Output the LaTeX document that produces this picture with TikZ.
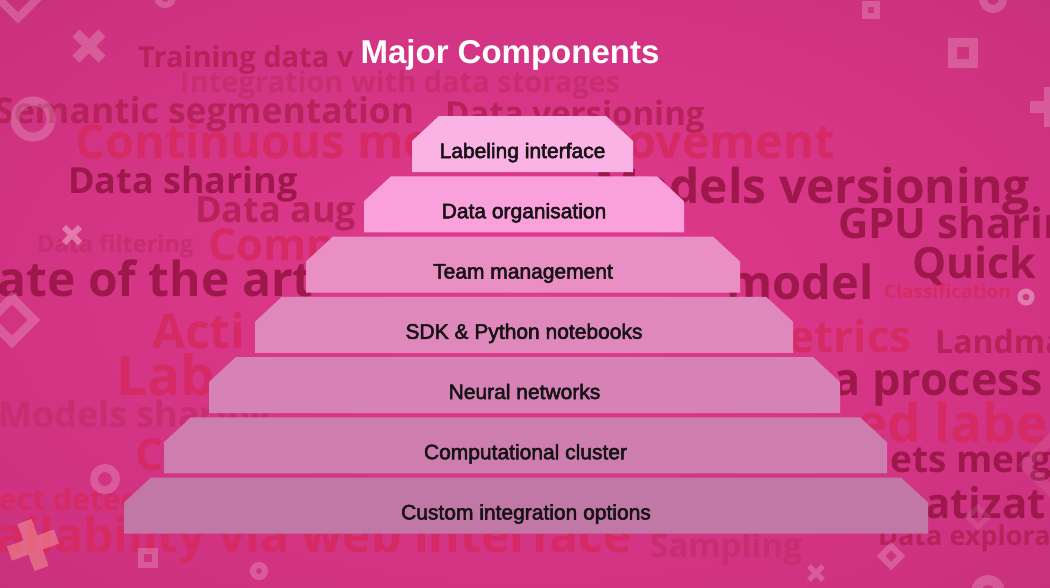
\documentclass[tikz,border=0pt]{standalone}
\usepackage{fontspec}
\usepackage{tikz}
\usetikzlibrary{shapes}
\setmainfont{Liberation Sans}
\newfontfamily\labelfont{Liberation Sans}[FakeBold=2.5]
\newfontfamily\wordfont{Open Sans}
\newcommand{\wsize}[1]{\fontsize{#1}{#1}\selectfont}

\definecolor{bgcenter}{RGB}{226, 58, 142}
\definecolor{bgmid}{RGB}{206, 50, 128}
\definecolor{bgedge}{RGB}{160, 36, 100}
\definecolor{wdark}{RGB}{158, 24, 76}
\definecolor{wmid}{RGB}{182, 34, 90}
\definecolor{wred}{RGB}{214, 42, 100}
\definecolor{wsoft}{RGB}{198, 46, 112}
\definecolor{layerA}{RGB}{251, 178, 228}
\definecolor{layerB}{RGB}{250, 160, 218}
\definecolor{layerC}{RGB}{234, 143, 196}
\definecolor{layerD}{RGB}{222, 136, 188}
\definecolor{layerE}{RGB}{214, 130, 182}
\definecolor{layerF}{RGB}{205, 125, 174}
\definecolor{layerG}{RGB}{193, 120, 166}
\definecolor{labelink}{RGB}{22, 18, 22}
\definecolor{crosstint}{RGB}{250, 170, 150}

\pgfdeclareradialshading{slidebg}{\pgfpoint{0bp}{0bp}}{color(0bp)=(bgcenter); color(30bp)=(bgmid); color(72bp)=(bgedge)}

\begin{document}
\begin{tikzpicture}[x=1pt, y=-1pt,
  layerlabel/.style={anchor=base, inner sep=0pt, font=\labelfont\wsize{21}, text=labelink},
  word/.style={anchor=base west, inner sep=0pt, font=\wordfont\bfseries, text=#1},
  deco/.style={draw=white, draw opacity=0.2}
]
  \useasboundingbox (0,0) rectangle (1050,587);
  \clip (0,0) rectangle (1050,587);
  \shade[shading=slidebg] (0,0) rectangle (1050,587);

  % word cloud
  \node[word=wmid] (training) at (138,67) {\wsize{29}Training data v};
  \node[word=wsoft] (storages) at (180,92) {\wsize{29}Integration with data storages};
  \node[word=wmid] (semantic) at (-6,123) {\wsize{35.5}Semantic segmentation};
  \node[word=wmid] (dataver) at (445,125) {\wsize{33}Data versioning};
  \node[word=wred] (continuous) at (75,158) {\wsize{47}Continuous model improvement};
  \node[word=wdark] (sharing) at (68,193) {\wsize{36}Data sharing};
  \node[word=wdark, anchor=base east] (modelver) at (1030,203) {\wsize{48}Models versioning};
  \node[word=wmid] (augment) at (195,222) {\wsize{36}Data aug};
  \node[word=wdark] (gpu) at (838,238) {\wsize{42}GPU sharing};
  \node[word=wsoft] (filtering) at (37,252) {\wsize{23.5}Data filtering};
  \node[word=wred] (comp) at (208,260) {\wsize{44}Comp};
  \node[word=wdark] (stateart) at (-50,296) {\wsize{48}State of the art};
  \node[word=wdark, anchor=base east] (model) at (874,299) {\wsize{47}model};
  \node[word=wdark] (quick) at (912,278) {\wsize{43}Quick};
  \node[word=wred] (classif) at (884,298) {\wsize{19}Classification};
  \node[word=wred] (active) at (152,348) {\wsize{48}Acti};
  \node[word=wred, anchor=base east] (metrics) at (912,352) {\wsize{44}metrics};
  \node[word=wmid] (landmarks) at (935,353) {\wsize{32}Landmarks};
  \node[word=wred] (lab) at (116,395) {\wsize{55}Lab};
  \node[word=wdark] (process) at (833,395) {\wsize{45}a process};
  \node[word=wsoft] (modelshare) at (-2,427) {\wsize{36}Models sharing};
  \node[word=wred] (labels) at (856,442) {\wsize{53}ed label};
  \node[word=wred] (cbig) at (135,470) {\wsize{44}C};
  \node[word=wdark] (merging) at (890,472) {\wsize{37}ets merg};
  \node[word=wred] (detect) at (-1,510) {\wsize{30}ect detect};
  \node[word=wdark] (atizat) at (925,518) {\wsize{42}atizat};
  \node[word=wred] (webint) at (-4,552) {\wsize{48}ailability via web interface};
  \node[word=wsoft] (sampling) at (650,557) {\wsize{33}Sampling};
  \node[word=wmid] (explore) at (878,545) {\wsize{27}Data explora};

  % decorations
  \draw[deco, line width=8pt] (18,-22) -- (38,-2) -- (18,18) -- (-2,-2) -- cycle;
  \draw[deco, line width=6pt] (165,-3) circle (8);
  \draw[deco, line width=10pt] (76,33) -- (102,59) (76,59) -- (102,33);
  \draw[deco, line width=9pt] (33,119) circle (18);
  \draw[deco, line width=6pt] (865,4) rectangle (877,16);
  \draw[deco, line width=8pt] (993,-1) circle (10);
  \draw[deco, line width=9pt] (952.5,42.5) rectangle (973.5,63.5);
  \draw[deco, line width=12pt] (1030,107) -- (1070,107) (1050,87) -- (1050,127);
  \draw[deco, draw opacity=0.35, line width=6pt] (64,227) -- (80,243) (64,243) -- (80,227);
  \draw[deco, line width=9pt] (12,298) -- (34,320) -- (12,342) -- (-10,320) -- cycle;
  \draw[deco, draw opacity=0.35, line width=5pt] (1026,297) circle (6);
  \draw[deco, line width=8pt] (105,479) circle (11);
  \draw[deco, draw=crosstint, draw opacity=0.45, line width=15pt, rotate around={20:(33,545)}]
    (33,520) -- (33,570) (8,545) -- (58,545);
  \draw[deco, line width=6pt] (141,551) rectangle (155,565);
  \draw[deco, line width=6pt] (259,571) circle (6);
  \draw[deco, line width=6pt] (891,546) -- (901,556) -- (891,566) -- (881,556) -- cycle;
  \draw[deco, draw opacity=0.1, line width=5pt] (978,507) -- (988,517) -- (978,527) -- (968,517) -- cycle;
  \draw[deco, line width=5pt] (809,566) -- (823,580) (809,580) -- (823,566);
  \draw[deco, line width=10pt] (988,592) circle (12);
  \draw[deco, draw opacity=0.08, line width=10pt] (1050,440) -- (1075,465) -- (1050,490) -- (1025,465) -- cycle;

  % pyramid
  \foreach \lname/\cx/\cy/\lw/\lcol/\ltext in {
      interface/522.5/144/221/layerA/Labeling interface,
      organisation/524/204.25/320/layerB/Data organisation,
      team/523/264.5/434/layerC/Team management,
      sdk/524/324.75/538/layerD/SDK \& Python notebooks,
      networks/524.5/385/631/layerE/Neural networks,
      cluster/525.5/445.25/723/layerF/Computational cluster,
      integration/526/505.5/804/layerG/Custom integration options} {
    \fill[\lcol] (\cx-\lw/2,\cy+28) -- (\cx-\lw/2,\cy-3) -- (\cx-\lw/2+27,\cy-28)
      -- (\cx+\lw/2-27,\cy-28) -- (\cx+\lw/2,\cy-3) -- (\cx+\lw/2,\cy+28) -- cycle;
    \node[layerlabel] (\lname) at (\cx,\cy+14) {\ltext};
  }

  \node[anchor=base, text=white, font=\bfseries\wsize{33}] (title) at (510,63) {Major Components};
\end{tikzpicture}
\end{document}
